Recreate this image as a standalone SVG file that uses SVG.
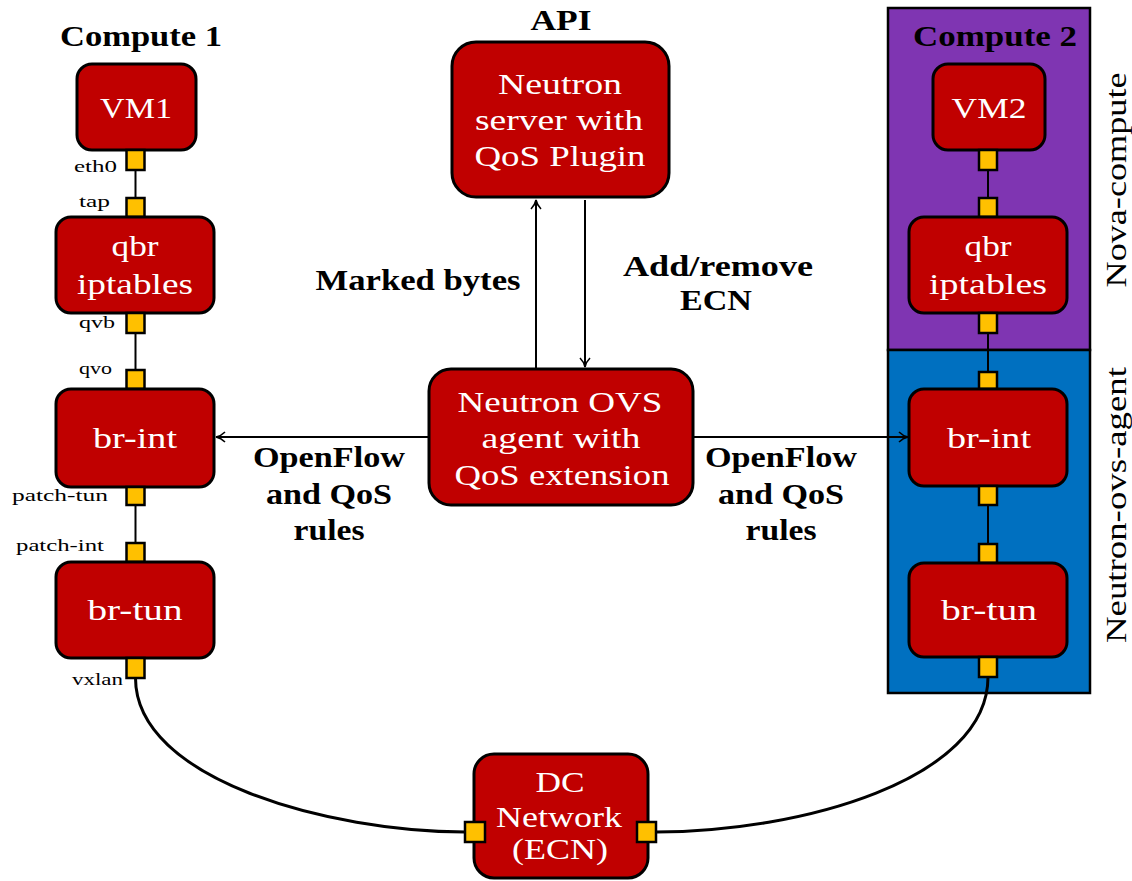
<svg xmlns="http://www.w3.org/2000/svg" width="1132" height="881" viewBox="0 0 1132 881">
<style>
.box{fill:#C00000;stroke:#000;stroke-width:3}
.port{fill:#FFC000;stroke:#000;stroke-width:2.5}
.nt{font-family:"Liberation Serif",serif;font-size:30px;fill:#fff;text-anchor:middle}
.lb{font-family:"Liberation Serif",serif;font-size:30px;font-weight:bold;fill:#000;text-anchor:middle}
.pl{font-family:"Liberation Serif",serif;font-size:16px;fill:#000;text-anchor:end}
.ln{stroke:#000;stroke-width:2;fill:none}
.cv{stroke:#000;stroke-width:3;fill:none}
</style>
<defs>
<marker id="arr" viewBox="0 0 12 12" refX="11" refY="6" markerWidth="12" markerHeight="12" markerUnits="userSpaceOnUse" orient="auto">
<path d="M2,1 Q6,5 11,6 Q6,7 2,11" fill="none" stroke="#000" stroke-width="1.6"/>
</marker>
</defs>
<g id="compute2-bg">
<rect x="888" y="8" width="202" height="342" fill="#7F35B2" stroke="#000" stroke-width="2.5"/>
<rect x="888" y="350" width="202" height="343" fill="#0070C0" stroke="#000" stroke-width="2.5"/>
</g>
<g id="titles">
<text class="lb" x="141" y="46" textLength="162" lengthAdjust="spacingAndGlyphs">Compute 1</text>
<text class="lb" x="561" y="30" textLength="61" lengthAdjust="spacingAndGlyphs">API</text>
<text class="lb" x="995" y="46" textLength="164" lengthAdjust="spacingAndGlyphs">Compute 2</text>
<text class="lb" font-weight="normal" transform="translate(1126,180) rotate(-90)" textLength="215" lengthAdjust="spacingAndGlyphs" style="font-weight:normal">Nova-compute</text>
<text class="lb" transform="translate(1126,505) rotate(-90)" textLength="276" lengthAdjust="spacingAndGlyphs" style="font-weight:normal">Neutron-ovs-agent</text>
</g>
<g id="connectors">
<line class="ln" x1="135.5" y1="170" x2="135.5" y2="198"/>
<line class="ln" x1="135.5" y1="333" x2="135.5" y2="370"/>
<line class="ln" x1="135.5" y1="505" x2="135.5" y2="543"/>
<line class="ln" x1="988" y1="170" x2="988" y2="198"/>
<line class="ln" x1="988" y1="333" x2="988" y2="372"/>
<line class="ln" x1="988" y1="505" x2="988" y2="544"/>
<line class="ln" x1="536" y1="368" x2="536" y2="200" marker-end="url(#arr)"/>
<line class="ln" x1="585" y1="200" x2="585" y2="367" marker-end="url(#arr)"/>
<line class="ln" x1="429" y1="437" x2="216" y2="437" marker-end="url(#arr)"/>
<line class="ln" x1="693" y1="437" x2="908" y2="437" marker-end="url(#arr)"/>
<path class="cv" d="M135.5,678 C135.5,780 330,832 465,832"/>
<path class="cv" d="M988,677 C988,780 800,832 656,832"/>
<text class="lb" x="418" y="290" textLength="205" lengthAdjust="spacingAndGlyphs">Marked bytes</text>
<text class="lb" x="718" y="276" textLength="190" lengthAdjust="spacingAndGlyphs">Add/remove</text>
<text class="lb" x="716" y="310" textLength="72" lengthAdjust="spacingAndGlyphs">ECN</text>
<text class="lb" x="329" y="467" textLength="152" lengthAdjust="spacingAndGlyphs">OpenFlow</text>
<text class="lb" x="329" y="504" textLength="126" lengthAdjust="spacingAndGlyphs">and QoS</text>
<text class="lb" x="329" y="540" textLength="71" lengthAdjust="spacingAndGlyphs">rules</text>
<text class="lb" x="781" y="467" textLength="152" lengthAdjust="spacingAndGlyphs">OpenFlow</text>
<text class="lb" x="781" y="504" textLength="126" lengthAdjust="spacingAndGlyphs">and QoS</text>
<text class="lb" x="781" y="540" textLength="71" lengthAdjust="spacingAndGlyphs">rules</text>
</g>
<g id="vm1">
<rect class="box" x="77" y="64" width="119" height="86" rx="15"/>
<text class="nt" x="136" y="118" textLength="72" lengthAdjust="spacingAndGlyphs">VM1</text>
<rect class="port" x="126.5" y="150" width="18" height="20"/>
<text class="pl" x="117" y="172" textLength="43" lengthAdjust="spacingAndGlyphs">eth0</text>
</g>
<g id="qbr1">
<rect class="port" x="126.5" y="198" width="18" height="19"/>
<text class="pl" x="110" y="207" textLength="31" lengthAdjust="spacingAndGlyphs">tap</text>
<rect class="box" x="56" y="217" width="158" height="96" rx="15"/>
<text class="nt" x="135" y="256" textLength="47" lengthAdjust="spacingAndGlyphs">qbr</text>
<text class="nt" x="135" y="294" textLength="116" lengthAdjust="spacingAndGlyphs">iptables</text>
<rect class="port" x="126.5" y="313" width="18" height="20"/>
<text class="pl" x="115" y="328" textLength="36" lengthAdjust="spacingAndGlyphs">qvb</text>
</g>
<g id="brint1">
<rect class="port" x="126.5" y="370" width="18" height="19"/>
<text class="pl" x="112" y="374" textLength="33" lengthAdjust="spacingAndGlyphs">qvo</text>
<rect class="box" x="56" y="389" width="158" height="98" rx="15"/>
<text class="nt" x="135" y="448" textLength="84" lengthAdjust="spacingAndGlyphs">br-int</text>
<rect class="port" x="126.5" y="487" width="18" height="18"/>
<text class="pl" x="108" y="501" textLength="96" lengthAdjust="spacingAndGlyphs">patch-tun</text>
</g>
<g id="brtun1">
<rect class="port" x="126.5" y="543" width="18" height="19"/>
<text class="pl" x="104" y="551" textLength="88" lengthAdjust="spacingAndGlyphs">patch-int</text>
<rect class="box" x="56" y="562" width="158" height="96" rx="15"/>
<text class="nt" x="135" y="620" textLength="95" lengthAdjust="spacingAndGlyphs">br-tun</text>
<rect class="port" x="126.5" y="658" width="18" height="20"/>
<text class="pl" x="123" y="685" textLength="51" lengthAdjust="spacingAndGlyphs">vxlan</text>
</g>
<g id="server">
<rect class="box" x="452" y="42" width="217" height="155" rx="24"/>
<text class="nt" x="560" y="94" textLength="124" lengthAdjust="spacingAndGlyphs">Neutron</text>
<text class="nt" x="559" y="130" textLength="168" lengthAdjust="spacingAndGlyphs">server with</text>
<text class="nt" x="560" y="166" textLength="171" lengthAdjust="spacingAndGlyphs">QoS Plugin</text>
</g>
<g id="agent">
<rect class="box" x="429" y="369" width="264" height="136" rx="22"/>
<text class="nt" x="560" y="412" textLength="205" lengthAdjust="spacingAndGlyphs">Neutron OVS</text>
<text class="nt" x="561" y="448" textLength="159" lengthAdjust="spacingAndGlyphs">agent with</text>
<text class="nt" x="562" y="485" textLength="215" lengthAdjust="spacingAndGlyphs">QoS extension</text>
</g>
<g id="vm2">
<rect class="box" x="933" y="64" width="112" height="86" rx="15"/>
<text class="nt" x="989" y="118" textLength="75" lengthAdjust="spacingAndGlyphs">VM2</text>
<rect class="port" x="979" y="150" width="18" height="20"/>
</g>
<g id="qbr2">
<rect class="port" x="979" y="198" width="18" height="19"/>
<rect class="box" x="909" y="217" width="158" height="96" rx="15"/>
<text class="nt" x="988" y="256" textLength="47" lengthAdjust="spacingAndGlyphs">qbr</text>
<text class="nt" x="988" y="294" textLength="118" lengthAdjust="spacingAndGlyphs">iptables</text>
<rect class="port" x="979" y="313" width="18" height="20"/>
</g>
<g id="brint2">
<rect class="port" x="979" y="372" width="18" height="17"/>
<rect class="box" x="909" y="389" width="158" height="97" rx="15"/>
<text class="nt" x="989" y="448" textLength="84" lengthAdjust="spacingAndGlyphs">br-int</text>
<rect class="port" x="979" y="486" width="18" height="19"/>
</g>
<g id="brtun2">
<rect class="port" x="979" y="544" width="18" height="19"/>
<rect class="box" x="909" y="563" width="158" height="94" rx="15"/>
<text class="nt" x="989" y="620" textLength="96" lengthAdjust="spacingAndGlyphs">br-tun</text>
<rect class="port" x="979" y="657" width="18" height="20"/>
</g>
<g id="dc">
<rect class="box" x="474" y="754" width="174" height="124" rx="20"/>
<text class="nt" x="560" y="792" textLength="49" lengthAdjust="spacingAndGlyphs">DC</text>
<text class="nt" x="559" y="827" textLength="126" lengthAdjust="spacingAndGlyphs">Network</text>
<text class="nt" x="560" y="859" textLength="96" lengthAdjust="spacingAndGlyphs">(ECN)</text>
<rect class="port" x="465" y="822" width="20" height="20"/>
<rect class="port" x="637" y="822" width="19" height="20"/>
</g>
</svg>
